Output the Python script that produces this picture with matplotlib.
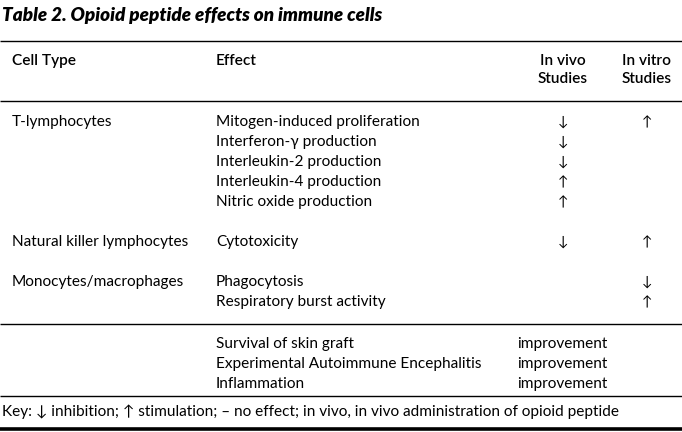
import matplotlib
matplotlib.use("Agg")
import matplotlib.pyplot as plt

title = "Table 2. Opioid peptide effects on immune cells"
headers = ["Cell Type", "Effect", "In vivo\nStudies", "In vitro\nStudies"]

cell_types = ["T-lymphocytes", "", "", "", "",
              "Natural killer lymphocytes",
              "Monocytes/macrophages", ""]
effects = ["Mitogen-induced proliferation", "Interferon-\u03b3 production",
           "Interleukin-2 production", "Interleukin-4 production",
           "Nitric oxide production", "Cytotoxicity",
           "Phagocytosis", "Respiratory burst activity"]
in_vivo = ["\u2193", "\u2193", "\u2193", "\u2191", "\u2191", "\u2193", "", ""]
in_vitro = ["\u2191", "", "", "", "", "\u2191", "\u2193", "\u2191"]
row_y = [122, 142, 162, 182, 202, 242, 282, 302]

other_effects = ["Survival of skin graft",
                 "Experimental Autoimmune Encephalitis", "Inflammation"]
other_result = ["improvement", "improvement", "improvement"]
other_y = [344, 364, 384]

key = ("Key: \u2193 inhibition; \u2191 stimulation; \u2013 no effect; "
       "in vivo, in vivo administration of opioid peptide")

W, H = 682, 432
fig = plt.figure(figsize=(W / 100, H / 100), dpi=100)
ax = fig.add_axes([0, 0, 1, 1])
ax.set_xlim(0, W)
ax.set_ylim(H, 0)
ax.axis("off")

fam = ["Lato", "DejaVu Sans"]
fs = 11.1
col_x = [12, 216, 563, 647]

ax.text(2, 15, title, fontsize=13.6, fontweight="heavy", style="italic",
        family=fam, va="center", ha="left")

# rules
for y in [41, 101, 324, 396]:
    ax.plot([0, W], [y, y], color="black", lw=1.0, solid_capstyle="butt")
ax.plot([0, W], [429, 429], color="black", lw=2.6, solid_capstyle="butt")

# header
ax.text(col_x[0], 61, headers[0], fontsize=fs, fontweight="semibold", family=fam,
        va="center", ha="left")
ax.text(col_x[1], 61, headers[1], fontsize=fs, fontweight="semibold", family=fam,
        va="center", ha="left")
for x, h in zip(col_x[2:], headers[2:]):
    ax.text(x, 70, h, fontsize=fs, fontweight="semibold", family=fam,
            va="center", ha="center", linespacing=1.3)

# body
for y, c, e, v, t in zip(row_y, cell_types, effects, in_vivo, in_vitro):
    ax.text(col_x[0], y, c, fontsize=fs, family=fam, va="center", ha="left")
    ax.text(col_x[1], y, e, fontsize=fs, family=fam, va="center", ha="left")
    ax.text(col_x[2], y, v, fontsize=fs - 1, family=fam, va="center", ha="center")
    ax.text(col_x[3], y, t, fontsize=fs - 1, family=fam, va="center", ha="center")

for y, e, r in zip(other_y, other_effects, other_result):
    ax.text(col_x[1], y, e, fontsize=fs, family=fam, va="center", ha="left")
    ax.text(517, y, r, fontsize=fs, family=fam, va="center", ha="left")

ax.text(2, 412, key, fontsize=fs, family=fam, va="center", ha="left")

fig.savefig("out.png", dpi=100, facecolor="white")
